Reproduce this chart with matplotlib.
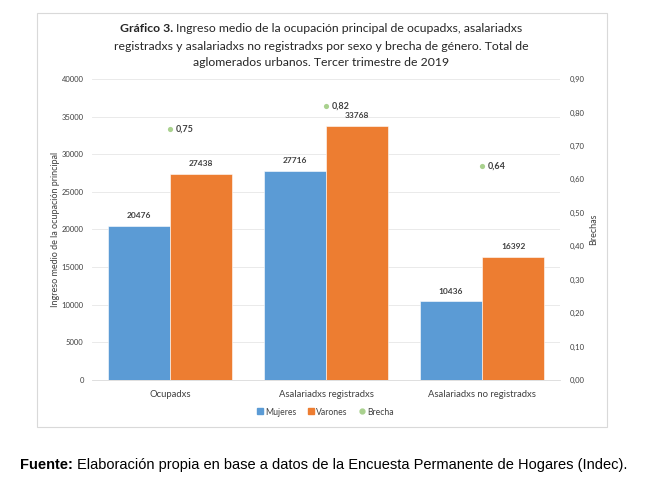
import matplotlib
matplotlib.use("Agg")
import matplotlib.pyplot as plt
from matplotlib.patches import Rectangle
from matplotlib.lines import Line2D
import numpy as np

categories = ["Ocupadxs", "Asalariadxs registradxs", "Asalariadxs no registradxs"]
mujeres = [20476, 27716, 10436]
varones = [27438, 33768, 16392]
brecha = [0.75, 0.82, 0.64]
left_ticks = [0, 5000, 10000, 15000, 20000, 25000, 30000, 35000, 40000]
right_ticks = [0.0, 0.1, 0.2, 0.3, 0.4, 0.5, 0.6, 0.7, 0.8, 0.9]

C_M = "#5B9BD5"
C_V = "#ED7D31"
C_B = "#A9D18E"
TXT = "#404040"
FONT = "Lato"

W, H = 648, 486
fig = plt.figure(figsize=(W / 100, H / 100), dpi=100)
fig.patch.set_facecolor("white")

# chart frame
fig.patches.append(Rectangle((37 / W, 1 - 427 / H), (607 - 37) / W, (427 - 13) / H,
                             transform=fig.transFigure, fill=False, edgecolor="#D9D9D9", lw=0.8))

ax = fig.add_axes([92 / W, 1 - 380 / H, (560 - 92) / W, (380 - 79) / H])
ax2 = ax.twinx()

x = np.arange(len(categories))
bw = 0.4
bm = ax.bar(x - bw / 2, mujeres, bw, color=C_M, edgecolor="white", linewidth=0.4, zorder=3)
bv = ax.bar(x + bw / 2, varones, bw, color=C_V, edgecolor="white", linewidth=0.4, zorder=3)
for rects, vals in ((bm, mujeres), (bv, varones)):
    for r, v in zip(rects, vals):
        ax.annotate(f"{v}", (r.get_x() + r.get_width() / 2, v), xytext=(0, 5),
                    textcoords="offset points", ha="center", va="bottom",
                    fontsize=6, fontweight="bold", color=TXT, family=FONT)

ax.set_xlim(-0.5, 2.5)
ax.set_ylim(0, 40000)
ax.set_yticks(left_ticks)
ax.set_yticklabels([str(t) for t in left_ticks])
ax.set_xticks(x)
ax.set_xticklabels(categories)
ax.grid(axis="y", color="#E6E6E6", lw=0.6, zorder=0)
ax.set_axisbelow(True)
for s in ax.spines.values():
    s.set_visible(False)
ax.spines["bottom"].set_visible(True)
ax.spines["bottom"].set_color("#D9D9D9")
ax.spines["bottom"].set_linewidth(0.6)
ax.tick_params(axis="y", length=0, labelsize=5.5, colors=TXT, pad=6)
ax.tick_params(axis="x", length=0, labelsize=6.8, colors=TXT, pad=7)
for lab in ax.get_xticklabels() + ax.get_yticklabels():
    lab.set_family(FONT)
ax.set_ylabel("Ingreso medio de la ocupación principal", fontsize=6.5, color=TXT,
              family=FONT, labelpad=1)

ax2.scatter(x, brecha, s=14, color=C_B, zorder=4, linewidths=0)
for xi, b in zip(x, brecha):
    ax2.annotate(f"{b:.2f}".replace(".", ","), (xi, b), xytext=(4.5, 0),
                 textcoords="offset points", ha="left", va="center",
                 fontsize=6.5, fontweight="bold", color=TXT, family=FONT)
ax2.set_ylim(0, 0.9)
ax2.set_yticks(right_ticks)
ax2.set_yticklabels([f"{t:.2f}".replace(".", ",") for t in right_ticks])
for s in ax2.spines.values():
    s.set_visible(False)
ax2.tick_params(axis="y", length=0, labelsize=5.5, colors=TXT, pad=7)
for lab in ax2.get_yticklabels():
    lab.set_family(FONT)
ax2.set_ylabel("Brechas", fontsize=6.5, color=TXT, family=FONT, labelpad=3)

# legend
handles = [Line2D([], [], marker="s", ls="", color=C_M, markersize=4),
           Line2D([], [], marker="s", ls="", color=C_V, markersize=4),
           Line2D([], [], marker="o", ls="", color=C_B, markersize=3.5)]
fig.legend(handles, ["Mujeres", "Varones", "Brecha"], loc="center",
           bbox_to_anchor=(325 / W, 1 - 412 / H), ncol=3, frameon=False,
           prop={"family": FONT, "size": 6.2}, handletextpad=0.1, columnspacing=1.2,
           labelcolor=TXT, handlelength=1)

renderer = fig.canvas.get_renderer()


def mixed(xc, y, bold_txt, norm_txt, size, family, color, align="center"):
    tb = fig.text(0, y, bold_txt, fontsize=size, fontweight="bold", family=family,
                  color=color, va="center", ha="left")
    tn = fig.text(0, y, norm_txt, fontsize=size, family=family, color=color,
                  va="center", ha="left")
    wb = tb.get_window_extent(renderer).width / W
    wn = tn.get_window_extent(renderer).width / W
    x0 = xc - (wb + wn) / 2 if align == "center" else xc
    tb.set_x(x0)
    tn.set_x(x0 + wb)


tsize = 8.8
tcol = "#262626"
mixed(0.5 - 3 / W, 1 - 29 / H, "Gráfico 3. ",
      "Ingreso medio de la ocupación principal de ocupadxs, asalariadxs",
      tsize, FONT, tcol)
fig.text(0.5 - 3 / W, 1 - 46 / H,
         "registradxs y asalariadxs no registradxs por sexo y brecha de género. Total de",
         fontsize=tsize, family=FONT, color=tcol, ha="center", va="center")
fig.text(0.5 - 3 / W, 1 - 62 / H, "aglomerados urbanos. Tercer trimestre de 2019",
         fontsize=tsize, family=FONT, color=tcol, ha="center", va="center")

mixed(20 / W, 1 - 465 / H, "Fuente: ",
      "Elaboración propia en base a datos de la Encuesta Permanente de Hogares (Indec).",
      10.5, "Liberation Sans", "black", align="left")

fig.savefig("out.png", dpi=100, facecolor="white")
